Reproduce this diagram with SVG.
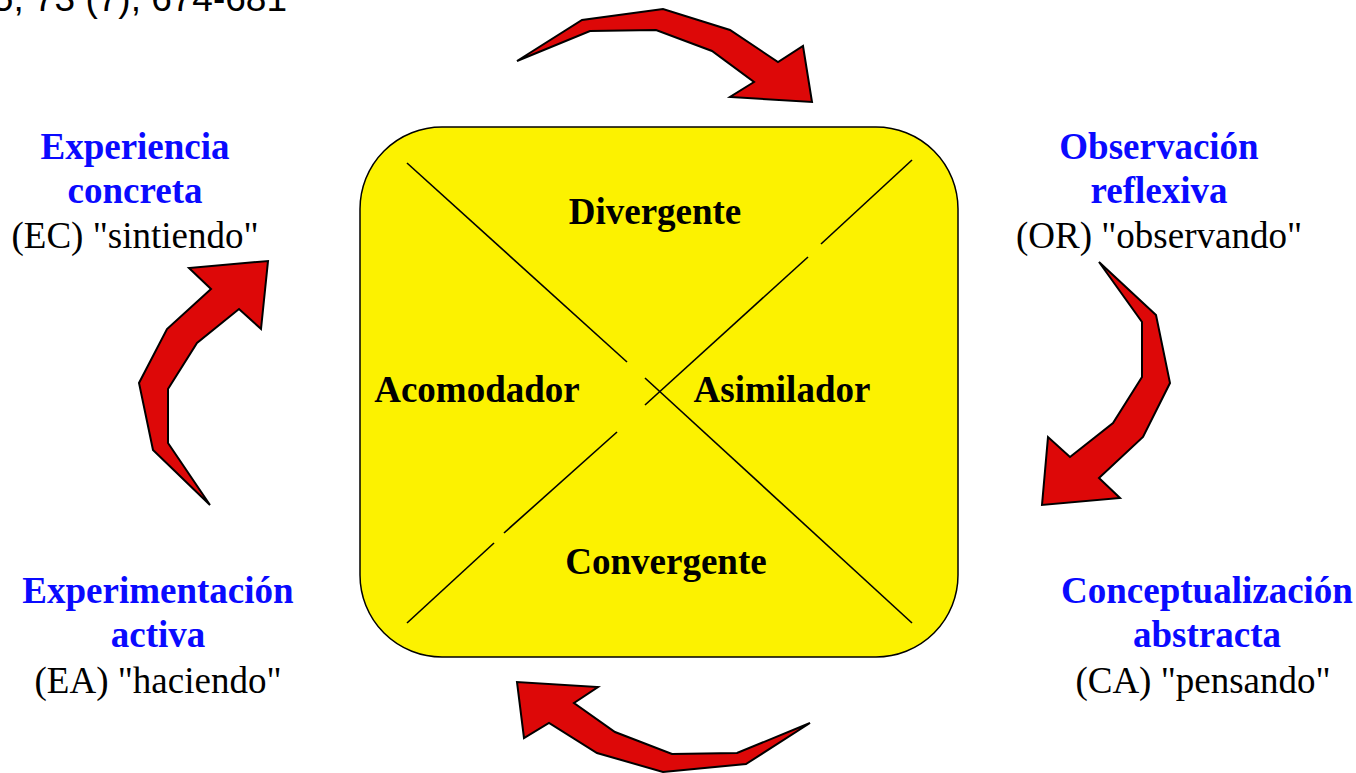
<svg xmlns="http://www.w3.org/2000/svg" width="1356" height="773" viewBox="0 0 1356 773">
  <style>
    .bg { fill: #ffffff; }
    .box { fill: #fcf200; stroke: #000000; stroke-width: 1.5; }
    .diag { stroke: #000000; stroke-width: 1.6; fill: none; }
    .arrow { fill: #dd0808; stroke: #000000; stroke-width: 2; stroke-linejoin: miter; }
    .style-name { font-family: "Liberation Serif", "Times New Roman", serif; font-weight: bold; font-size: 37px; fill: #000000; text-anchor: middle; }
    .stage { font-family: "Liberation Serif", "Times New Roman", serif; font-weight: bold; font-size: 37px; fill: #0a0aff; text-anchor: middle; }
    .mode { font-family: "Liberation Serif", "Times New Roman", serif; font-size: 37px; fill: #000000; text-anchor: middle; }
    .ref { font-family: "Liberation Sans", Arial, sans-serif; font-size: 37px; fill: #000000; text-anchor: end; }
  </style>

  <rect class="bg" x="0" y="0" width="1356" height="773"/>

  <text class="ref" x="287" y="11">5, 73 (7), 674-681</text>

  <!-- central learning-style square -->
  <g id="styles-box">
    <rect class="box" x="360" y="127" width="598" height="530" rx="82" ry="82"/>
    <line class="diag" x1="407" y1="163" x2="627" y2="362"/>
    <line class="diag" x1="645" y1="378" x2="912" y2="623"/>
    <line class="diag" x1="407" y1="623" x2="494" y2="543"/>
    <line class="diag" x1="504" y1="533" x2="617" y2="432"/>
    <line class="diag" x1="645" y1="405" x2="808" y2="257"/>
    <line class="diag" x1="821" y1="244" x2="912" y2="160"/>
  </g>
  <g id="divergente"><text class="style-name" x="655" y="224">Divergente</text></g>
  <g id="acomodador"><text class="style-name" x="477" y="402">Acomodador</text></g>
  <g id="asimilador"><text class="style-name" x="782" y="402">Asimilador</text></g>
  <g id="convergente"><text class="style-name" x="666" y="574">Convergente</text></g>

  <!-- stages of the cycle -->
  <g id="ec">
    <text class="stage" x="135" y="159">Experiencia</text>
    <text class="stage" x="135" y="203">concreta</text>
    <text class="mode" x="135" y="248">(EC) "sintiendo"</text>
  </g>
  <g id="or">
    <text class="stage" x="1159" y="159">Observación</text>
    <text class="stage" x="1159" y="203">reflexiva</text>
    <text class="mode" x="1159" y="248">(OR) "observando"</text>
  </g>
  <g id="ca">
    <text class="stage" x="1207" y="603">Conceptualización</text>
    <text class="stage" x="1207" y="647">abstracta</text>
    <text class="mode" x="1203" y="693">(CA) "pensando"</text>
  </g>
  <g id="ea">
    <text class="stage" x="158" y="603">Experimentación</text>
    <text class="stage" x="158" y="647">activa</text>
    <text class="mode" x="158" y="693">(EA) "haciendo"</text>
  </g>

  <!-- curved cycle arrows -->
  <g id="connectors">
    <polygon class="arrow" points="517,61 582,20 663,9 730,30 778,62 803,46 812,102 730,97 754,82 712,51 656,30 590,31"/>
    <polygon class="arrow" points="1099,262 1156,315 1170,383 1143,437 1099,478 1120,498 1042,505 1048,437 1070,457 1113,423 1142,377 1142,322"/>
    <polygon class="arrow" points="810,723 746,764 663,772 597,753 549,723 524,738 517,682 598,687 574,703 615,732 672,754 737,753"/>
    <polygon class="arrow" points="210,505 153,450 139,383 167,329 211,289 189,268 268,261 261,329 239,309 197,343 168,389 168,443"/>
  </g>
</svg>
